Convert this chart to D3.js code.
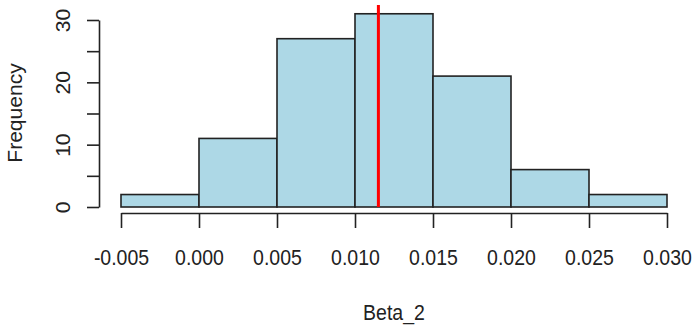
<!DOCTYPE html>
<html>
<head>
<meta charset="utf-8">
<script src="https://cdn.jsdelivr.net/npm/d3@7"></script>
<style>
  body { margin: 0; background: #fff; }
  svg { display: block; font-family: "Liberation Sans", Arial, sans-serif; }
</style>
</head>
<body>
<svg id="chart" width="692" height="328"></svg>
<script>
// histogram bins (Beta_2)
var binEdges = [-0.005, 0.000, 0.005, 0.010, 0.015, 0.020, 0.025, 0.030];
var counts = [2, 11, 27, 31, 21, 6, 2];
var xTicks = [-0.005, 0.000, 0.005, 0.010, 0.015, 0.020, 0.025, 0.030];
var yTicks = [0, 5, 10, 15, 20, 25, 30];
var yLabels = [0, 10, 20, 30];
var meanValue = 0.0115;

var svg = d3.select("#chart");

var xScale = d3.scaleLinear().domain([-0.005, 0.030]).range([121, 667]),
    yScale = d3.scaleLinear().domain([0, 30]).range([207, 20]);

var bins = counts.map(function (c, i) {
    return { x0: binEdges[i], x1: binEdges[i + 1], n: c };
});

// bars
svg.append("g")
    .selectAll("rect")
    .data(bins)
    .enter()
    .append("rect")
    .attr("x", function (d) { return xScale(d.x0); })
    .attr("y", function (d) { return yScale(d.n); })
    .attr("width", function (d) { return xScale(d.x1) - xScale(d.x0); })
    .attr("height", function (d) { return yScale(0) - yScale(d.n); })
    .style("fill", "#ADD8E6")
    .style("stroke", "#222")
    .style("stroke-width", 1.6);

// mean line
svg.append("line")
    .attr("x1", xScale(meanValue))
    .attr("x2", xScale(meanValue))
    .attr("y1", 5)
    .attr("y2", yScale(0))
    .style("stroke", "#FF0000")
    .style("stroke-width", 3);

// x axis (R style: plain hyphen for minus)
var fmt = d3.format(".3f");
var xAxis = svg.append("g")
    .attr("transform", "translate(0,213)")
    .call(d3.axisBottom(xScale)
        .tickValues(xTicks)
        .tickSize(15)
        .tickSizeOuter(0)
        .tickFormat(function (d) { return fmt(d).replace("\u2212", "-"); }));
xAxis.select(".domain").style("stroke", "#222").style("stroke-width", 1.6);
xAxis.selectAll(".tick line").style("stroke", "#222").style("stroke-width", 1.6);
xAxis.selectAll(".tick text")
    .attr("y", null)
    .attr("dy", null)
    .attr("transform", "translate(0,52) scale(1,1.15)")
    .style("font-size", "19.5px")
    .style("fill", "#222")
    .style("font-family", "Liberation Sans, Arial, sans-serif");

// y axis
var yAxis = svg.append("g")
    .attr("transform", "translate(99,0)")
    .call(d3.axisLeft(yScale)
        .tickValues(yTicks)
        .tickSize(12)
        .tickSizeOuter(0)
        .tickFormat(function (d) { return yLabels.indexOf(d) >= 0 ? d : ""; }));
yAxis.select(".domain").style("stroke", "#222").style("stroke-width", 1.6);
yAxis.selectAll(".tick line").style("stroke", "#222").style("stroke-width", 1.6);
yAxis.selectAll(".tick text")
    .attr("x", null)
    .attr("dy", null)
    .attr("text-anchor", "middle")
    .attr("transform", "translate(-29,0) rotate(-90) scale(1.08,1)")
    .attr("y", 0)
    .style("font-size", "19.5px")
    .style("fill", "#222")
    .style("font-family", "Liberation Sans, Arial, sans-serif");

// axis labels
svg.append("text")
    .attr("text-anchor", "middle")
    .attr("transform", "translate(394,320) scale(1,1.12)")
    .style("font-size", "19.5px")
    .style("fill", "#222")
    .text("Beta_2");

svg.append("text")
    .attr("text-anchor", "middle")
    .attr("transform", "translate(22,113) rotate(-90) scale(1.08,1)")
    .style("font-size", "19.5px")
    .style("fill", "#222")
    .text("Frequency");
</script>
</body>
</html>
